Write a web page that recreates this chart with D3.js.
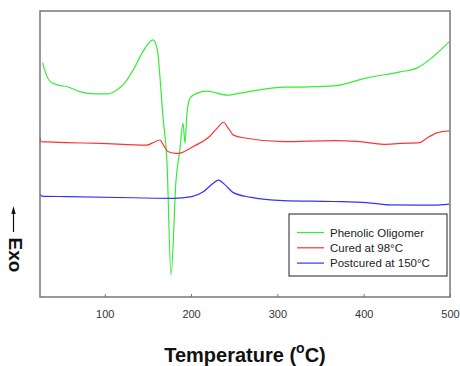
<!DOCTYPE html>
<html>
<head>
<meta charset="utf-8">
<script src="https://cdn.jsdelivr.net/npm/d3@7"></script>
<style>
  body { margin: 0; background: #fff; }
  text { font-family: "Liberation Sans", Arial, sans-serif; }
</style>
</head>
<body>
<svg id="chart"></svg>
<script>
// DSC traces, temperature (C) vs. relative heat flow (arbitrary units, exo up)
let oligomerTemp = [28, 31, 37, 46, 57, 71, 89, 103, 114, 123, 133, 144, 156, 161, 164, 167.5, 172, 176.8, 182.6, 187, 190.7, 193, 195.3, 199, 207, 218, 242, 257, 280, 307, 326, 365, 404, 442, 462, 480, 499];
let oligomerFlow = [82, 78.8, 75.3, 74.1, 73.5, 71.8, 71, 71, 72.4, 74.8, 79.4, 85.7, 89.9, 86.4, 76.9, 62.9, 47.9, 7.7, 40.9, 51.4, 60.8, 53.8, 64.3, 69.6, 71.3, 72, 70.6, 71.3, 72.4, 73.4, 73.4, 73.8, 76.6, 78.7, 80.1, 83.9, 89.2];

let curedTemp = [25, 26.2, 56, 94.5, 148.6, 156.3, 164, 168, 173.7, 183.4, 189.2, 202.6, 222, 231.6, 237.4, 243.2, 249, 264.5, 307, 365, 396, 423, 442, 465, 473, 485, 499];
let curedFlow = [55.8, 54.3, 54, 53.7, 53.1, 54, 54.9, 53.1, 50.8, 50.2, 50.5, 52.6, 56.3, 59.5, 61.1, 59, 56.6, 55.5, 54.3, 54.7, 54.3, 53.4, 53.7, 54, 55.5, 57.4, 58.1];

let postTemp = [25, 27, 56, 133, 179.5, 200.8, 214.2, 225.8, 231.6, 239.4, 249, 268.3, 307, 365, 403.6, 430.6, 480.7, 499];
let postFlow = [36, 35.3, 35.1, 34.7, 34.5, 35.1, 36.8, 39.8, 40.9, 39.2, 36.5, 34.9, 33.7, 33.4, 33, 32.2, 32.1, 32.5];

let seriesNames = ["Phenolic Oligomer", "Cured at 98°C", "Postcured at 150°C"];
let seriesColors = ["#33ee33", "#ff3333", "#3333ff"];
let xTicks = [100, 200, 300, 400, 500];

function drawChart() {
    let w = 460, h = 366;
    let svg = d3.select("#chart").attr("width", w).attr("height", h);

    let left = 40, right = 450, top = 11, bottom = 297;

    let x = d3.scaleLinear().domain([25, 500]).range([left, right]);
    let y = d3.scaleLinear().domain([0, 100]).range([bottom, top]);

    let series = [
        { name: seriesNames[0], color: seriesColors[0], pts: oligomerTemp.map((t, i) => [t, oligomerFlow[i]]) },
        { name: seriesNames[1], color: seriesColors[1], pts: curedTemp.map((t, i) => [t, curedFlow[i]]) },
        { name: seriesNames[2], color: seriesColors[2], pts: postTemp.map((t, i) => [t, postFlow[i]]) }
    ];

    let line = d3.line()
        .x(d => x(d[0]))
        .y(d => y(d[1]))
        .curve(d3.curveMonotoneX);

    svg.selectAll("path.trace")
        .data(series)
        .enter()
        .append("path")
        .attr("class", "trace")
        .attr("fill", "none")
        .attr("stroke", d => d.color)
        .attr("stroke-width", 1.2)
        .attr("d", d => line(d.pts));

    // bottom axis, ticks pointing inward
    let xAxis = svg.append("g")
        .attr("transform", `translate(0,${bottom})`)
        .call(d3.axisBottom(x).tickValues(xTicks).tickSizeInner(-3).tickSizeOuter(0).tickPadding(13));
    xAxis.select(".domain").remove();
    xAxis.selectAll("line").attr("stroke", "#777");
    xAxis.selectAll("text").attr("font-size", 11).attr("fill", "#333")
        .style("font-family", "'Liberation Sans', Arial, sans-serif");

    // frame
    svg.append("rect")
        .attr("x", left).attr("y", top)
        .attr("width", right - left).attr("height", bottom - top)
        .attr("fill", "none").attr("stroke", "#777").attr("stroke-width", 1.5);

    // legend
    let lg = svg.append("g").attr("transform", "translate(289,214)");
    lg.append("rect").attr("width", 158).attr("height", 62)
        .attr("fill", "#fff").attr("stroke", "#222").attr("stroke-width", 1);
    let rows = lg.selectAll("g.row").data(series).enter().append("g")
        .attr("class", "row")
        .attr("transform", (d, i) => `translate(0,${18.5 + i * 15.3})`);
    rows.append("line").attr("x1", 8).attr("x2", 35)
        .attr("stroke", d => d.color).attr("stroke-width", 1.2);
    rows.append("text").attr("x", 41).attr("y", 4)
        .attr("font-size", 11.5).attr("fill", "#222")
        .text(d => d.name);

    // x title
    let title = svg.append("text")
        .attr("x", 245).attr("y", 362)
        .attr("text-anchor", "middle")
        .attr("font-size", 20).attr("font-weight", "bold").attr("fill", "#111");
    title.append("tspan").text("Temperature (");
    title.append("tspan").attr("font-size", 14).attr("dy", -9).text("o");
    title.append("tspan").attr("dy", 9).text("C)");

    // y label with arrow
    svg.append("text")
        .attr("transform", "translate(9,255) rotate(90)")
        .attr("text-anchor", "middle")
        .attr("font-size", 19).attr("font-weight", "bold").attr("fill", "#111")
        .text("Exo");
    svg.append("line")
        .attr("x1", 13.5).attr("x2", 13.5).attr("y1", 211).attr("y2", 232)
        .attr("stroke", "#111").attr("stroke-width", 1.2);
    svg.append("path")
        .attr("d", "M11.3,214 L13.5,206 L15.7,214 Z")
        .attr("fill", "#111");
}

window.onload = function() {
    drawChart();
};
</script>
</body>
</html>
